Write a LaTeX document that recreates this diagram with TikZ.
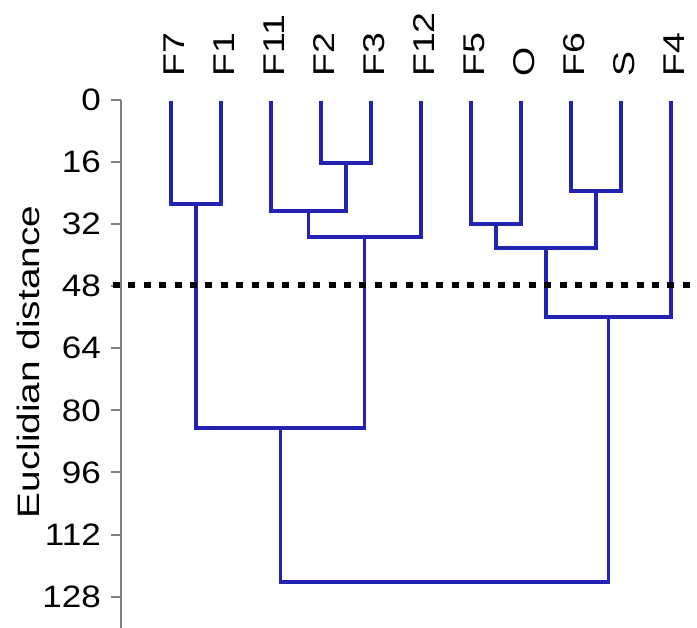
\documentclass[tikz,border=0pt]{standalone}
\usepackage{fontspec}
\setmainfont{Liberation Sans}
\begin{document}
\begin{tikzpicture}[x=1pt,y=-1pt,
  link/.style={draw=dendro,line width=3.2pt,line join=miter},
  axisline/.style={draw=axisgray,line width=2pt},
  cutline/.style={draw=black,line width=6pt,dash pattern=on 7pt off 8.4pt},
  leaflabel/.style={anchor=west,rotate=90,inner sep=0pt,font=\fontsize{30}{34}\selectfont},
  ticklabel/.style={anchor=east,inner sep=0pt,font=\fontsize{31}{35}\selectfont},
  axislabel/.style={rotate=90,inner sep=0pt,font=\fontsize{31}{35}\selectfont}]
\definecolor{dendro}{RGB}{35,35,178}
\definecolor{axisgray}{RGB}{128,128,128}
\useasboundingbox[fill=white] (0,0) rectangle (697,628);
% axis
\coordinate (axtop) at (121,100);
\coordinate (axbot) at (121,628);
\draw[axisline] (axtop) -- (axbot);
\foreach \v/\y in {0/100,16/162.1,32/224.2,48/286.2,64/348.3,80/410.4,96/472.5,112/534.6,128/596.6}{
  \coordinate (t\v) at (121,\y);
  \coordinate (tl\v) at (111,\y);
  \draw[axisline] (t\v) -- (tl\v);
  \node[ticklabel] (n\v) at (101,\y) {\scalebox{1.13}[1]{\v}};
}
\node[axislabel] (ylab) at (28,362) {\scalebox{1.25}[1]{Euclidian distance}};
% leaves
\foreach \n/\x in {F7/171,F1/221,F11/271,F2/321,F3/371,F12/421,F5/471,O/521,F6/571,S/621,F4/671}{
  \coordinate (\n) at (\x,101);
  \node[leaflabel] (lab\n) at (\x+3,77) {\scalebox{1.25}[1]{\n}};
}
% merge points
\coordinate (a) at (346,163);
\coordinate (b) at (308.5,211);
\coordinate (c) at (364.75,237);
\coordinate (d) at (196,204);
\coordinate (e) at (280.4,428);
\coordinate (f) at (496,224);
\coordinate (g) at (596,191);
\coordinate (h) at (546,248);
\coordinate (i) at (608.5,317);
\coordinate (r) at (444.5,582);
% links
\draw[link] (F2) |- (a) -| (F3);
\draw[link] (F11) |- (b) -| (a);
\draw[link] (b) |- (c) -| (F12);
\draw[link] (F7) |- (d) -| (F1);
\draw[link] (d) |- (e) -| (c);
\draw[link] (F5) |- (f) -| (O);
\draw[link] (F6) |- (g) -| (S);
\draw[link] (f) |- (h) -| (g);
\draw[link] (h) |- (i) -| (F4);
\draw[link] (e) |- (r) -| (i);
% cut line
\coordinate (cutL) at (113,285);
\coordinate (cutR) at (697,285);
\draw[cutline] (cutL) -- (cutR);
\end{tikzpicture}
\end{document}
